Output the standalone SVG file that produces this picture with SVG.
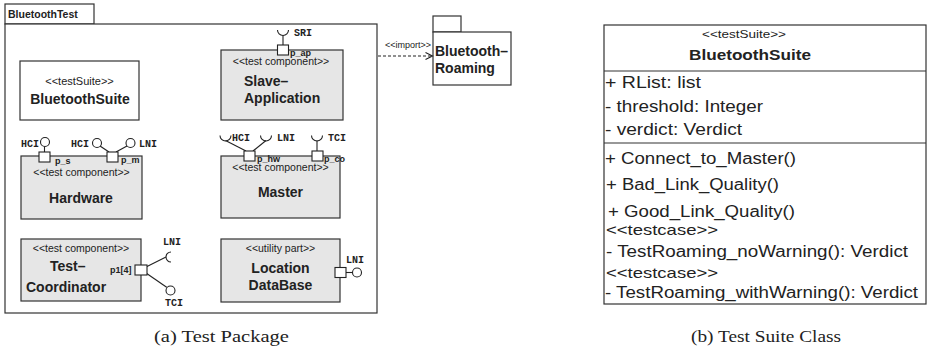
<svg xmlns="http://www.w3.org/2000/svg" width="929" height="354" viewBox="0 0 929 354">
<defs>
<style>
.box{fill:#fff;stroke:#333;stroke-width:1.2}
.comp{fill:#e6e6e6;stroke:#333;stroke-width:1.2}
.port{fill:#fff;stroke:#222;stroke-width:1.1}
.ln{fill:none;stroke:#222;stroke-width:1.1}
.ball{fill:#fff;stroke:#222;stroke-width:1.1}
text{font-family:"Liberation Sans",Arial,sans-serif;fill:#222}
.st{font-size:10.5px}
.bn{font-size:14px;font-weight:bold}
.if{font-family:"Liberation Mono","Courier New",monospace;font-size:10px;font-weight:bold}
.pl{font-size:9px;font-weight:bold}
.mem{font-size:16px}
.cap{font-family:"Liberation Serif","Times New Roman",serif;font-size:17.5px}
</style>
</defs>
<rect width="929" height="354" fill="#fff"/>

<g id="package-BluetoothTest">
<rect class="box" x="5" y="4" width="89" height="20"/>
<rect class="box" x="5" y="24" width="372" height="289"/>
<text x="8" y="18" style="font-size:10.5px;font-weight:bold">BluetoothTest</text>
</g>

<g id="node-BluetoothSuite">
<rect class="box" x="20" y="61" width="119" height="59"/>
<text class="st" x="79.5" y="85" text-anchor="middle" style="font-size:11px">&lt;&lt;testSuite&gt;&gt;</text>
<text class="bn" x="80" y="104" text-anchor="middle">BluetoothSuite</text>
</g>

<g id="node-SlaveApplication">
<rect class="comp" x="221" y="50" width="122" height="70"/>
<line class="ln" x1="283" y1="45" x2="283" y2="35.5"/>
<path class="ln" d="M277.5,30 A5.5,5.5 0 0 0 288.5,30"/>
<rect class="port" x="277.5" y="45" width="11" height="10"/>
<text class="if" x="294" y="36">SRI</text>
<text class="pl" x="290" y="56">p_ap</text>
<text class="st" x="281" y="65" text-anchor="middle">&lt;&lt;test component&gt;&gt;</text>
<text class="bn" x="244" y="86">Slave–</text>
<text class="bn" x="244" y="103">Application</text>
</g>

<g id="node-Hardware">
<rect class="comp" x="21" y="156" width="121" height="63"/>
<line class="ln" x1="44.5" y1="152" x2="44.5" y2="146.5"/>
<circle class="ball" cx="45" cy="142" r="4.5"/>
<rect class="port" x="39" y="152" width="11" height="10"/>
<line class="ln" x1="109" y1="152" x2="100" y2="146"/>
<line class="ln" x1="116" y1="152" x2="127" y2="146"/>
<circle class="ball" cx="97" cy="143" r="4.5"/>
<circle class="ball" cx="130.5" cy="143" r="4.5"/>
<rect class="port" x="107" y="152" width="11" height="10"/>
<text class="if" x="21" y="147">HCI</text>
<text class="if" x="71" y="147">HCI</text>
<text class="if" x="139" y="147">LNI</text>
<text class="pl" x="55" y="164">p_s</text>
<text class="pl" x="121" y="163">p_m</text>
<text class="st" x="81.5" y="176" text-anchor="middle">&lt;&lt;test component&gt;&gt;</text>
<text class="bn" x="81" y="203" text-anchor="middle">Hardware</text>
</g>

<g id="node-Master">
<rect class="comp" x="221" y="156" width="119" height="62"/>
<line class="ln" x1="246" y1="151" x2="225.5" y2="140.5"/>
<path class="ln" d="M220,135.5 A5.5,5.5 0 0 0 231,135.5"/>
<line class="ln" x1="253" y1="151" x2="266" y2="140.5"/>
<path class="ln" d="M260.5,135.5 A5.5,5.5 0 0 0 271.5,135.5"/>
<line class="ln" x1="317" y1="151" x2="317" y2="140.5"/>
<path class="ln" d="M311.5,135.5 A5.5,5.5 0 0 0 322.5,135.5"/>
<rect class="port" x="244" y="151" width="11" height="10"/>
<rect class="port" x="312" y="151" width="11" height="10"/>
<text class="if" x="232" y="141">HCI</text>
<text class="if" x="277" y="141">LNI</text>
<text class="if" x="328" y="141">TCI</text>
<text class="pl" x="257" y="162">p_hw</text>
<text class="pl" x="324" y="162">p_co</text>
<text class="st" x="280.5" y="171" text-anchor="middle">&lt;&lt;test component&gt;&gt;</text>
<text class="bn" x="280.5" y="197" text-anchor="middle">Master</text>
</g>

<g id="node-TestCoordinator">
<rect class="comp" x="21" y="239" width="120" height="62"/>
<line class="ln" x1="146" y1="267" x2="166" y2="257"/>
<path class="ln" d="M171,252 A5,5 0 0 0 171,262"/>
<line class="ln" x1="146" y1="273" x2="167" y2="287.5"/>
<circle class="ball" cx="170.5" cy="290.5" r="4.5"/>
<rect class="port" x="135" y="265" width="12" height="10"/>
<text class="if" x="163" y="245">LNI</text>
<text class="if" x="165" y="306">TCI</text>
<text class="pl" x="110" y="273">p1[4]</text>
<text class="st" x="81" y="252" text-anchor="middle">&lt;&lt;test component&gt;&gt;</text>
<text class="bn" x="50" y="271">Test–</text>
<text class="bn" x="26" y="292">Coordinator</text>
</g>

<g id="node-LocationDataBase">
<rect class="comp" x="221" y="239" width="119" height="63"/>
<line class="ln" x1="346" y1="272.5" x2="352.5" y2="272.5"/>
<circle class="ball" cx="357" cy="272.5" r="4.5"/>
<rect class="port" x="335" y="267.5" width="11" height="10"/>
<text class="if" x="346" y="263">LNI</text>
<text class="st" x="280.5" y="252" text-anchor="middle">&lt;&lt;utility part&gt;&gt;</text>
<text class="bn" x="280.5" y="273" text-anchor="middle">Location</text>
<text class="bn" x="280.5" y="290" text-anchor="middle">DataBase</text>
</g>

<g id="node-BluetoothRoaming">
<rect class="box" x="433" y="16" width="28" height="16"/>
<rect class="box" x="433" y="32" width="78" height="53"/>
<text class="bn" x="435" y="56">Bluetooth–</text>
<text class="bn" x="435" y="73">Roaming</text>
</g>

<g id="connectors">
<line x1="378" y1="56" x2="432" y2="56" stroke="#222" stroke-width="1.1" stroke-dasharray="3,2"/>
<polyline points="425.5,52.5 432.5,56 425.5,59.5" fill="none" stroke="#222" stroke-width="1.1"/>
<text x="385" y="48" style="font-size:9px">&lt;&lt;import&gt;&gt;</text>
</g>

<g id="node-BluetoothSuiteClass">
<rect class="box" x="604" y="25" width="322" height="279"/>
<line class="ln" x1="604" y1="71" x2="926" y2="71" style="stroke:#333;stroke-width:1.2"/>
<line class="ln" x1="604" y1="143" x2="926" y2="143" style="stroke:#333;stroke-width:1.2"/>
<text x="702" y="38" textLength="84" lengthAdjust="spacingAndGlyphs" style="font-size:11px">&lt;&lt;testSuite&gt;&gt;</text>
<text class="bn" x="689" y="60" textLength="122" lengthAdjust="spacingAndGlyphs" style="font-size:14.5px">BluetoothSuite</text>
<text class="mem" x="605" y="88" textLength="96" lengthAdjust="spacingAndGlyphs">+ RList: list</text>
<text class="mem" x="605" y="112" textLength="158" lengthAdjust="spacingAndGlyphs">- threshold: Integer</text>
<text class="mem" x="605" y="135" textLength="137" lengthAdjust="spacingAndGlyphs">- verdict: Verdict</text>
<text class="mem" x="605" y="164" textLength="191" lengthAdjust="spacingAndGlyphs">+ Connect_to_Master()</text>
<text class="mem" x="606" y="190" textLength="173" lengthAdjust="spacingAndGlyphs">+ Bad_Link_Quality()</text>
<text class="mem" x="608" y="217" textLength="187" lengthAdjust="spacingAndGlyphs">+ Good_Link_Quality()</text>
<text x="606" y="235" textLength="112" lengthAdjust="spacingAndGlyphs" style="font-size:14.5px">&lt;&lt;testcase&gt;&gt;</text>
<text class="mem" x="606" y="257" textLength="302" lengthAdjust="spacingAndGlyphs">- TestRoaming_noWarning(): Verdict</text>
<text x="606" y="278" textLength="112" lengthAdjust="spacingAndGlyphs" style="font-size:14.5px">&lt;&lt;testcase&gt;&gt;</text>
<text class="mem" x="605" y="298" textLength="313" lengthAdjust="spacingAndGlyphs">- TestRoaming_withWarning(): Verdict</text>
</g>

<text class="cap" x="154" y="342" textLength="135" lengthAdjust="spacingAndGlyphs">(a) Test Package</text>
<text class="cap" x="691" y="342" textLength="150" lengthAdjust="spacingAndGlyphs">(b) Test Suite Class</text>
</svg>
